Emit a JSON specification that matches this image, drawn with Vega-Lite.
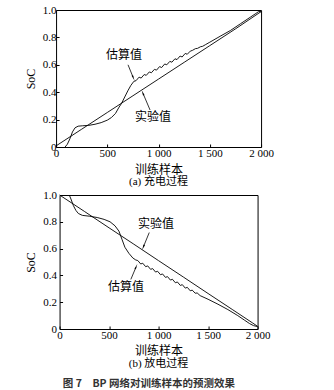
{
  "$schema": "https://vega.github.io/schema/vega-lite/v6.json",
  "padding": {"left": 23, "top": 3, "right": 2, "bottom": 2},
  "background": "white",
  "config": {
    "font": "Liberation Serif, Noto Sans CJK SC",
    "view": {"stroke": "black", "strokeWidth": 1},
    "axis": {
      "domain": false, "grid": false, "labelOverlap": false,
      "tickColor": "black", "tickSize": -3, "tickWidth": 1,
      "labelColor": "black", "labelFont": "Liberation Serif", "labelFontSize": 11,
      "titleColor": "black", "titleFont": "Liberation Serif, Noto Sans CJK SC", "titleFontWeight": "normal", "titleFontSize": 12
    },
    "title": {"color": "black", "font": "Liberation Serif, Noto Sans CJK SC", "fontWeight": "normal", "fontSize": 11}
  },
  "datasets": {
    "charge": [
      {"x": 0, "y": 0.008, "series": "实验值"},
      {"x": 250, "y": 0.13, "series": "实验值"},
      {"x": 500, "y": 0.252, "series": "实验值"},
      {"x": 750, "y": 0.374, "series": "实验值"},
      {"x": 1000, "y": 0.496, "series": "实验值"},
      {"x": 1250, "y": 0.618, "series": "实验值"},
      {"x": 1500, "y": 0.74, "series": "实验值"},
      {"x": 1750, "y": 0.862, "series": "实验值"},
      {"x": 1980, "y": 0.978, "series": "实验值"},
      {"x": 2000, "y": 0.987, "series": "实验值"},
      {"x": 88, "y": 0.0, "series": "估算值"},
      {"x": 110, "y": 0.02, "series": "估算值"},
      {"x": 135, "y": 0.06, "series": "估算值"},
      {"x": 160, "y": 0.11, "series": "估算值"},
      {"x": 185, "y": 0.14, "series": "估算值"},
      {"x": 215, "y": 0.152, "series": "估算值"},
      {"x": 260, "y": 0.155, "series": "估算值"},
      {"x": 320, "y": 0.158, "series": "估算值"},
      {"x": 380, "y": 0.166, "series": "估算值"},
      {"x": 440, "y": 0.178, "series": "估算值"},
      {"x": 500, "y": 0.196, "series": "估算值"},
      {"x": 540, "y": 0.215, "series": "估算值"},
      {"x": 580, "y": 0.245, "series": "估算值"},
      {"x": 610, "y": 0.285, "series": "估算值"},
      {"x": 640, "y": 0.32, "series": "估算值"},
      {"x": 670, "y": 0.365, "series": "估算值"},
      {"x": 700, "y": 0.41, "series": "估算值"},
      {"x": 730, "y": 0.45, "series": "估算值"},
      {"x": 760, "y": 0.48, "series": "估算值"},
      {"x": 780, "y": 0.484, "series": "估算值"},
      {"x": 810, "y": 0.51, "series": "估算值"},
      {"x": 830, "y": 0.503, "series": "估算值"},
      {"x": 860, "y": 0.529, "series": "估算值"},
      {"x": 880, "y": 0.523, "series": "估算值"},
      {"x": 910, "y": 0.548, "series": "估算值"},
      {"x": 930, "y": 0.542, "series": "估算值"},
      {"x": 960, "y": 0.567, "series": "估算值"},
      {"x": 980, "y": 0.561, "series": "估算值"},
      {"x": 1010, "y": 0.587, "series": "估算值"},
      {"x": 1030, "y": 0.58, "series": "估算值"},
      {"x": 1060, "y": 0.606, "series": "估算值"},
      {"x": 1080, "y": 0.6, "series": "估算值"},
      {"x": 1110, "y": 0.625, "series": "估算值"},
      {"x": 1130, "y": 0.619, "series": "估算值"},
      {"x": 1160, "y": 0.644, "series": "估算值"},
      {"x": 1180, "y": 0.638, "series": "估算值"},
      {"x": 1210, "y": 0.664, "series": "估算值"},
      {"x": 1230, "y": 0.657, "series": "估算值"},
      {"x": 1260, "y": 0.683, "series": "估算值"},
      {"x": 1280, "y": 0.677, "series": "估算值"},
      {"x": 1310, "y": 0.7, "series": "估算值"},
      {"x": 1330, "y": 0.705, "series": "估算值"},
      {"x": 1360, "y": 0.718, "series": "估算值"},
      {"x": 1380, "y": 0.72, "series": "估算值"},
      {"x": 1410, "y": 0.732, "series": "估算值"},
      {"x": 1430, "y": 0.735, "series": "估算值"},
      {"x": 1460, "y": 0.748, "series": "估算值"},
      {"x": 1500, "y": 0.765, "series": "估算值"},
      {"x": 1600, "y": 0.808, "series": "估算值"},
      {"x": 1700, "y": 0.85, "series": "估算值"},
      {"x": 1800, "y": 0.9, "series": "估算值"},
      {"x": 1900, "y": 0.95, "series": "估算值"},
      {"x": 1950, "y": 0.975, "series": "估算值"},
      {"x": 1975, "y": 0.988, "series": "估算值"},
      {"x": 2000, "y": 0.99, "series": "估算值"}
    ],
    "discharge": [
      {"x": 0, "y": 1.0, "series": "实验值"},
      {"x": 250, "y": 0.878, "series": "实验值"},
      {"x": 500, "y": 0.755, "series": "实验值"},
      {"x": 750, "y": 0.633, "series": "实验值"},
      {"x": 1000, "y": 0.51, "series": "实验值"},
      {"x": 1250, "y": 0.388, "series": "实验值"},
      {"x": 1500, "y": 0.265, "series": "实验值"},
      {"x": 1750, "y": 0.143, "series": "实验值"},
      {"x": 1950, "y": 0.045, "series": "实验值"},
      {"x": 2000, "y": 0.02, "series": "实验值"},
      {"x": 98, "y": 1.0, "series": "估算值"},
      {"x": 115, "y": 0.97, "series": "估算值"},
      {"x": 140, "y": 0.92, "series": "估算值"},
      {"x": 165, "y": 0.885, "series": "估算值"},
      {"x": 190, "y": 0.862, "series": "估算值"},
      {"x": 230, "y": 0.848, "series": "估算值"},
      {"x": 300, "y": 0.842, "series": "估算值"},
      {"x": 380, "y": 0.832, "series": "估算值"},
      {"x": 450, "y": 0.818, "series": "估算值"},
      {"x": 510, "y": 0.8, "series": "估算值"},
      {"x": 560, "y": 0.77, "series": "估算值"},
      {"x": 600, "y": 0.73, "series": "估算值"},
      {"x": 630, "y": 0.67, "series": "估算值"},
      {"x": 660, "y": 0.61, "series": "估算值"},
      {"x": 700, "y": 0.565, "series": "估算值"},
      {"x": 740, "y": 0.53, "series": "估算值"},
      {"x": 770, "y": 0.515, "series": "估算值"},
      {"x": 790, "y": 0.511, "series": "估算值"},
      {"x": 820, "y": 0.485, "series": "估算值"},
      {"x": 840, "y": 0.491, "series": "估算值"},
      {"x": 870, "y": 0.465, "series": "估算值"},
      {"x": 890, "y": 0.471, "series": "估算值"},
      {"x": 920, "y": 0.445, "series": "估算值"},
      {"x": 940, "y": 0.451, "series": "估算值"},
      {"x": 970, "y": 0.425, "series": "估算值"},
      {"x": 990, "y": 0.431, "series": "估算值"},
      {"x": 1020, "y": 0.405, "series": "估算值"},
      {"x": 1040, "y": 0.411, "series": "估算值"},
      {"x": 1070, "y": 0.385, "series": "估算值"},
      {"x": 1090, "y": 0.391, "series": "估算值"},
      {"x": 1120, "y": 0.365, "series": "估算值"},
      {"x": 1140, "y": 0.371, "series": "估算值"},
      {"x": 1170, "y": 0.345, "series": "估算值"},
      {"x": 1190, "y": 0.351, "series": "估算值"},
      {"x": 1220, "y": 0.325, "series": "估算值"},
      {"x": 1240, "y": 0.331, "series": "估算值"},
      {"x": 1270, "y": 0.305, "series": "估算值"},
      {"x": 1290, "y": 0.311, "series": "估算值"},
      {"x": 1320, "y": 0.285, "series": "估算值"},
      {"x": 1340, "y": 0.29, "series": "估算值"},
      {"x": 1370, "y": 0.267, "series": "估算值"},
      {"x": 1390, "y": 0.269, "series": "估算值"},
      {"x": 1420, "y": 0.249, "series": "估算值"},
      {"x": 1500, "y": 0.222, "series": "估算值"},
      {"x": 1600, "y": 0.185, "series": "估算值"},
      {"x": 1700, "y": 0.145, "series": "估算值"},
      {"x": 1800, "y": 0.1, "series": "估算值"},
      {"x": 1870, "y": 0.065, "series": "估算值"},
      {"x": 1920, "y": 0.04, "series": "估算值"},
      {"x": 1960, "y": 0.025, "series": "估算值"},
      {"x": 2000, "y": 0.018, "series": "估算值"}
    ],
    "notesA": [
      {"label": "估算值", "x": 663, "y": 0.67, "tx": 702, "ty": 0.6, "hx": 751, "hy": 0.51},
      {"label": "实验值", "x": 946, "y": 0.22, "tx": 917, "ty": 0.27, "hx": 849, "hy": 0.39}
    ],
    "notesB": [
      {"label": "实验值", "x": 973, "y": 0.78, "tx": 906, "ty": 0.72, "hx": 848, "hy": 0.615},
      {"label": "估算值", "x": 670, "y": 0.31, "tx": 720, "ty": 0.37, "hx": 771, "hy": 0.46}
    ]
  },
  "title": {"text": "图 7　BP 网络对训练样本的预测效果", "orient": "bottom", "anchor": "middle", "font": "Noto Sans CJK SC", "fontSize": 10.5, "fontWeight": "bold", "color": "#333333", "offset": 9},
  "spacing": 0,
  "center": true,
  "vconcat": [
    {
      "width": 205, "height": 137,
      "title": {"text": "(a) 充电过程", "orient": "bottom", "offset": 1},
      "layer": [
        {
          "data": {"name": "charge"},
          "mark": {"type": "line", "color": "black", "strokeWidth": 0.9},
          "encoding": {
            "x": {"field": "x", "type": "quantitative", "scale": {"domain": [0, 2000], "nice": false},
                  "axis": {"title": "训练样本", "values": [0, 500, 1000, 1500, 2000], "tickCount": 5, "labelFlush": false, "labelOverlap": false, "labelPadding": 3, "titlePadding": 6,
                           "labelExpr": "datum.value >= 1000 ? replace(format(datum.value, ','), ',', ' ') : format(datum.value, 'd')"}},
            "y": {"field": "y", "type": "quantitative", "scale": {"domain": [0, 1], "nice": false},
                  "axis": {"title": "SoC", "values": [0, 0.2, 0.4, 0.6, 0.8, 1], "tickCount": 6, "labelOverlap": false, "labelPadding": 3, "titlePadding": 5,
                           "labelExpr": "datum.value == 0 ? '0' : format(datum.value, '.1f')"}},
            "detail": {"field": "series"}
          }
        },
        {
          "data": {"name": "notesA"},
          "mark": {"type": "text", "font": "Noto Sans CJK SC", "fontSize": 12, "color": "black"},
          "encoding": {"x": {"field": "x", "type": "quantitative"}, "y": {"field": "y", "type": "quantitative"}, "text": {"field": "label"}}
        },
        {
          "data": {"name": "notesA"},
          "mark": {"type": "rule", "color": "black", "strokeWidth": 0.8},
          "encoding": {"x": {"field": "tx", "type": "quantitative"}, "y": {"field": "ty", "type": "quantitative"}, "x2": {"field": "hx"}, "y2": {"field": "hy"}}
        },
        {
          "data": {"name": "notesA"},
          "transform": [{"filter": "datum.label == '估算值'"}],
          "mark": {"type": "point", "shape": "wedge", "filled": true, "color": "black", "size": 40, "angle": 157, "opacity": 1},
          "encoding": {"x": {"field": "hx", "type": "quantitative"}, "y": {"field": "hy", "type": "quantitative"}}
        },
        {
          "data": {"name": "notesA"},
          "transform": [{"filter": "datum.label == '实验值'"}],
          "mark": {"type": "point", "shape": "wedge", "filled": true, "color": "black", "size": 40, "angle": 338, "opacity": 1},
          "encoding": {"x": {"field": "hx", "type": "quantitative"}, "y": {"field": "hy", "type": "quantitative"}}
        }
      ]
    },
    {
      "width": 198, "height": 134,
      "title": {"text": "(b) 放电过程", "orient": "bottom", "offset": 2},
      "layer": [
        {
          "data": {"name": "discharge"},
          "mark": {"type": "line", "color": "black", "strokeWidth": 0.9},
          "encoding": {
            "x": {"field": "x", "type": "quantitative", "scale": {"domain": [0, 2000], "nice": false},
                  "axis": {"title": "训练样本", "values": [0, 500, 1000, 1500, 2000], "tickCount": 5, "labelFlush": false, "labelOverlap": false, "labelPadding": 3, "titlePadding": 5,
                           "labelExpr": "datum.value >= 1000 ? replace(format(datum.value, ','), ',', ' ') : format(datum.value, 'd')"}},
            "y": {"field": "y", "type": "quantitative", "scale": {"domain": [0, 1], "nice": false},
                  "axis": {"title": "SoC", "values": [0, 0.2, 0.4, 0.6, 0.8, 1], "tickCount": 6, "labelOverlap": false, "labelPadding": 6, "titlePadding": 5,
                           "labelExpr": "datum.value == 0 ? '0' : format(datum.value, '.1f')"}},
            "detail": {"field": "series"}
          }
        },
        {
          "data": {"name": "notesB"},
          "mark": {"type": "text", "font": "Noto Sans CJK SC", "fontSize": 12, "color": "black"},
          "encoding": {"x": {"field": "x", "type": "quantitative"}, "y": {"field": "y", "type": "quantitative"}, "text": {"field": "label"}}
        },
        {
          "data": {"name": "notesB"},
          "mark": {"type": "rule", "color": "black", "strokeWidth": 0.8},
          "encoding": {"x": {"field": "tx", "type": "quantitative"}, "y": {"field": "ty", "type": "quantitative"}, "x2": {"field": "hx"}, "y2": {"field": "hy"}}
        },
        {
          "data": {"name": "notesB"},
          "transform": [{"filter": "datum.label == '实验值'"}],
          "mark": {"type": "point", "shape": "wedge", "filled": true, "color": "black", "size": 40, "angle": 202, "opacity": 1},
          "encoding": {"x": {"field": "hx", "type": "quantitative"}, "y": {"field": "hy", "type": "quantitative"}}
        },
        {
          "data": {"name": "notesB"},
          "transform": [{"filter": "datum.label == '估算值'"}],
          "mark": {"type": "point", "shape": "wedge", "filled": true, "color": "black", "size": 40, "angle": 23, "opacity": 1},
          "encoding": {"x": {"field": "hx", "type": "quantitative"}, "y": {"field": "hy", "type": "quantitative"}}
        }
      ]
    }
  ]
}
